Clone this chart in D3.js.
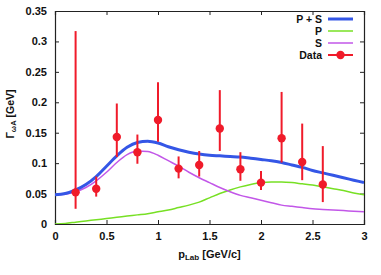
<!DOCTYPE html>
<html>
<head>
<meta charset="utf-8">
<script src="https://cdn.jsdelivr.net/npm/d3@7"></script>
<style>
  body { margin: 0; background: #fff; }
  text { font-family: "Liberation Sans", Arial, sans-serif; font-weight: bold; }
</style>
</head>
<body>
<svg id="chart" width="381" height="275"></svg>
<script>
// p_Lab grid for the model curves
var curveX = d3.range(0, 31).map(function(i) { return i / 10; });

var curvePS = [0.048, 0.050, 0.056, 0.065, 0.078, 0.095, 0.112, 0.126, 0.134, 0.136, 0.133,
               0.127, 0.122, 0.118, 0.115, 0.113, 0.112, 0.111, 0.110, 0.108, 0.106,
               0.104, 0.101, 0.097, 0.093, 0.088, 0.084, 0.080, 0.076, 0.072, 0.068];
var curveP  = [0.000, 0.001, 0.003, 0.005, 0.007, 0.009, 0.011, 0.013, 0.015, 0.017, 0.020,
               0.023, 0.027, 0.031, 0.036, 0.043, 0.050, 0.056, 0.061, 0.065, 0.068,
               0.069, 0.069, 0.068, 0.066, 0.064, 0.061, 0.058, 0.055, 0.051, 0.048];
var curveS  = [0.048, 0.049, 0.053, 0.060, 0.071, 0.085, 0.101, 0.114, 0.120, 0.119, 0.113,
               0.104, 0.095, 0.085, 0.076, 0.068, 0.060, 0.053, 0.047, 0.043, 0.039,
               0.035, 0.031, 0.029, 0.027, 0.025, 0.024, 0.023, 0.022, 0.021, 0.020];

// measured points
var dataX   = [0.2, 0.4, 0.6, 0.8, 1.0, 1.2, 1.4, 1.6, 1.8, 2.0, 2.2, 2.4, 2.6];
var dataY   = [0.052, 0.058, 0.143, 0.118, 0.171, 0.091, 0.097, 0.157, 0.090, 0.068, 0.141, 0.102, 0.065];
var dataLo  = [0.025, 0.045, 0.110, 0.099, 0.135, 0.075, 0.078, 0.120, 0.071, 0.056, 0.101, 0.072, 0.036];
var dataHi  = [0.317, 0.078, 0.198, 0.147, 0.233, 0.111, 0.120, 0.220, 0.118, 0.087, 0.217, 0.165, 0.128];

var xTicks = [0, 0.5, 1, 1.5, 2, 2.5, 3];
var yTicks = [0, 0.05, 0.1, 0.15, 0.2, 0.25, 0.3, 0.35];

var series = [
  { name: "P + S", values: curvePS, color: "#3456e6", width: 3 },
  { name: "P",     values: curveP,  color: "#77e024", width: 1.5 },
  { name: "S",     values: curveS,  color: "#c257e8", width: 1.5 }
];
var dataColor = "#f01b2a";

var svg = d3.select("#chart");
var pLeft = 55, pRight = 364, pTop = 11, pBottom = 224;

var x = d3.scaleLinear().domain([0, 3]).range([pLeft, pRight]);
var y = d3.scaleLinear().domain([0, 0.35]).range([pBottom, pTop]);

// clip for curves
svg.append("defs").append("clipPath").attr("id", "plot")
  .append("rect").attr("x", pLeft).attr("y", pTop)
  .attr("width", pRight - pLeft).attr("height", pBottom - pTop);

// axes: ticks inward, mirrored on top/right
var fmt = function(d) { return String(d); };
svg.append("g").attr("transform", "translate(0," + pBottom + ")")
  .call(d3.axisBottom(x).tickValues(xTicks).tickSize(-4).tickPadding(8).tickFormat(fmt));
svg.append("g").attr("transform", "translate(0," + pTop + ")")
  .call(d3.axisTop(x).tickValues(xTicks).tickSize(-4).tickFormat(""));
svg.append("g").attr("transform", "translate(" + pLeft + ",0)")
  .call(d3.axisLeft(y).tickValues(yTicks).tickSize(-4).tickPadding(8).tickFormat(fmt));
svg.append("g").attr("transform", "translate(" + pRight + ",0)")
  .call(d3.axisRight(y).tickValues(yTicks).tickSize(-4).tickFormat(""));

svg.selectAll(".domain").attr("stroke", "#222").attr("stroke-width", 1.2);
svg.selectAll(".tick line").attr("stroke", "#222");
svg.selectAll(".tick text").attr("font-size", 11).attr("fill", "#111")
  .style("font-family", "'Liberation Sans', Arial, sans-serif").style("font-weight", "bold");

// curves
var line = d3.line()
  .x(function(d, i) { return x(curveX[i]); })
  .y(function(d) { return y(d); })
  .curve(d3.curveMonotoneX);

var drawOrder = [series[1], series[2], series[0]];
svg.append("g").attr("clip-path", "url(#plot)")
  .selectAll("path").data(drawOrder).enter().append("path")
  .attr("d", function(d) { return line(d.values); })
  .attr("fill", "none")
  .attr("stroke", function(d) { return d.color; })
  .attr("stroke-width", function(d) { return d.width; });

// data points with error bars
var pts = svg.append("g").selectAll("g").data(dataX).enter().append("g");
pts.append("line")
  .attr("x1", function(d) { return x(d); })
  .attr("x2", function(d) { return x(d); })
  .attr("y1", function(d, i) { return y(dataLo[i]); })
  .attr("y2", function(d, i) { return y(dataHi[i]); })
  .attr("stroke", dataColor).attr("stroke-width", 2);
pts.append("circle")
  .attr("cx", function(d) { return x(d); })
  .attr("cy", function(d, i) { return y(dataY[i]); })
  .attr("r", 4.2)
  .attr("fill", dataColor);

// legend
var legendItems = series.map(function(s) { return { name: s.name, color: s.color }; })
  .concat([{ name: "Data", color: dataColor, dot: true }]);
var leg = svg.append("g").selectAll("g").data(legendItems).enter().append("g")
  .attr("transform", function(d, i) { return "translate(0," + (19 + i * 12) + ")"; });
leg.append("text")
  .attr("x", 322).attr("y", 4)
  .attr("text-anchor", "end")
  .attr("font-size", 10.5).attr("fill", "#111")
  .text(function(d) { return d.name; });
leg.append("line")
  .attr("x1", 328).attr("x2", 353).attr("y1", 0).attr("y2", 0)
  .attr("stroke", function(d) { return d.color; })
  .attr("stroke-width", function(d, i) { return i === 0 ? 3 : (d.dot ? 2 : 1.5); });
leg.filter(function(d) { return d.dot; }).append("circle")
  .attr("cx", 340.5).attr("cy", 0).attr("r", 4.2).attr("fill", dataColor);

// axis titles
var xt = svg.append("text")
  .attr("x", (pLeft + pRight) / 2).attr("y", 258)
  .attr("text-anchor", "middle").attr("font-size", 11).attr("fill", "#111");
xt.append("tspan").text("p");
xt.append("tspan").attr("font-size", 8).attr("dy", 2).text("Lab");
xt.append("tspan").attr("dy", -2).text(" [GeV/c]");

var yt = svg.append("text")
  .attr("transform", "translate(14," + 114 + ") rotate(-90)")
  .attr("text-anchor", "middle").attr("font-size", 10.5).attr("fill", "#111");
yt.append("tspan").text("Γ");
yt.append("tspan").attr("font-size", 7.5).attr("dy", 2).text("ωA");
yt.append("tspan").attr("dy", -2).text(" [GeV]");
</script>
</body>
</html>
